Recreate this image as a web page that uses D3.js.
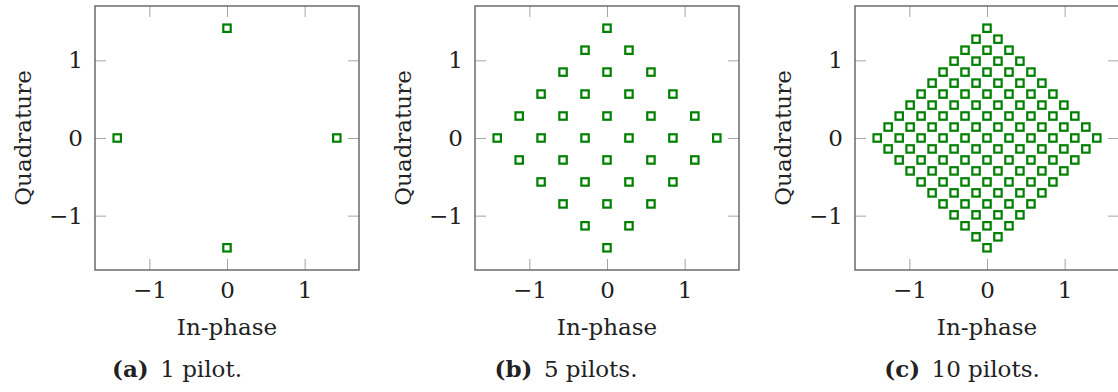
<!DOCTYPE html>
<html>
<head>
<meta charset="utf-8">
<script src="https://cdn.jsdelivr.net/npm/d3@7"></script>
<style>
  html, body { margin: 0; padding: 0; background: #fff; }
  svg { display: block; }
  text { font-family: "DejaVu Serif", "Liberation Serif", serif; fill: #222; }
</style>
</head>
<body>
<svg id="chart" width="1118" height="392"></svg>
<script>
// Axis range and ticks shared by every constellation
const axisRange = [-1.7, 1.7];
const tickValues = [-1, 0, 1];

// Subfigure captions
const captionTags = ["(a)", "(b)", "(c)"];
const captionTexts = ["1 pilot.", "5 pilots.", "10 pilots."];

// Constellation points, one row per quadrature level: [Q, [I values]]
const pilots1 = [
  [1.414, [0]],
  [0, [-1.414, 1.414]],
  [-1.414, [0]]
];

const pilots5 = [
  [1.414, [0]],
  [1.131, [-0.283, 0.283]],
  [0.849, [-0.566, 0, 0.566]],
  [0.566, [-0.849, -0.283, 0.283, 0.849]],
  [0.283, [-1.131, -0.566, 0, 0.566, 1.131]],
  [0, [-1.414, -0.849, -0.283, 0.283, 0.849, 1.414]],
  [-0.283, [-1.131, -0.566, 0, 0.566, 1.131]],
  [-0.566, [-0.849, -0.283, 0.283, 0.849]],
  [-0.849, [-0.566, 0, 0.566]],
  [-1.131, [-0.283, 0.283]],
  [-1.414, [0]]
];

const pilots10 = [
  [1.414, [0]],
  [1.273, [-0.141, 0.141]],
  [1.131, [-0.283, 0, 0.283]],
  [0.990, [-0.424, -0.141, 0.141, 0.424]],
  [0.849, [-0.566, -0.283, 0, 0.283, 0.566]],
  [0.707, [-0.707, -0.424, -0.141, 0.141, 0.424, 0.707]],
  [0.566, [-0.849, -0.566, -0.283, 0, 0.283, 0.566, 0.849]],
  [0.424, [-0.990, -0.707, -0.424, -0.141, 0.141, 0.424, 0.707, 0.990]],
  [0.283, [-1.131, -0.849, -0.566, -0.283, 0, 0.283, 0.566, 0.849, 1.131]],
  [0.141, [-1.273, -0.990, -0.707, -0.424, -0.141, 0.141, 0.424, 0.707, 0.990, 1.273]],
  [0, [-1.414, -1.131, -0.849, -0.566, -0.283, 0, 0.283, 0.566, 0.849, 1.131, 1.414]],
  [-0.141, [-1.273, -0.990, -0.707, -0.424, -0.141, 0.141, 0.424, 0.707, 0.990, 1.273]],
  [-0.283, [-1.131, -0.849, -0.566, -0.283, 0, 0.283, 0.566, 0.849, 1.131]],
  [-0.424, [-0.990, -0.707, -0.424, -0.141, 0.141, 0.424, 0.707, 0.990]],
  [-0.566, [-0.849, -0.566, -0.283, 0, 0.283, 0.566, 0.849]],
  [-0.707, [-0.707, -0.424, -0.141, 0.141, 0.424, 0.707]],
  [-0.849, [-0.566, -0.283, 0, 0.283, 0.566]],
  [-0.990, [-0.424, -0.141, 0.141, 0.424]],
  [-1.131, [-0.283, 0, 0.283]],
  [-1.273, [-0.141, 0.141]],
  [-1.414, [0]]
];

const constellations = [pilots1, pilots5, pilots10];

// Layout
const size = 264;            // square plot area
const panelLeft = [95, 475, 855];
const panelTop = 6;
const captionCenter = [177, 566, 962];
const captionBaseline = 377;
const fontSize = 23;
const tickLen = 11;
const green = "#008000";

const svg = d3.select("#chart");

const x = d3.scaleLinear().domain(axisRange).range([0, size]);
const y = d3.scaleLinear().domain(axisRange).range([size, 0]);
const fmt = d3.format("d");

constellations.forEach((rows, i) => {
  const g = svg.append("g").attr("transform", `translate(${panelLeft[i]},${panelTop})`);

  const points = rows.flatMap(([q, is]) => is.map(v => ({ i: v, q })));

  // inward ticks on all four sides
  const styleAxis = sel => {
    sel.select(".domain").remove();
    sel.selectAll(".tick line").attr("stroke", "#a6a6a6").attr("stroke-width", 1);
    sel.selectAll(".tick text")
      .style("font-size", fontSize + "px")
      .attr("fill", "#222");
  };

  g.append("g").attr("transform", `translate(0,${size})`)
    .call(d3.axisBottom(x).tickValues(tickValues).tickSize(-tickLen).tickPadding(12).tickFormat(fmt))
    .call(styleAxis);
  g.append("g")
    .call(d3.axisTop(x).tickValues(tickValues).tickSize(-tickLen).tickFormat(""))
    .call(styleAxis);
  g.append("g")
    .call(d3.axisLeft(y).tickValues(tickValues).tickSize(-tickLen).tickPadding(12).tickFormat(fmt))
    .call(styleAxis);
  g.append("g").attr("transform", `translate(${size},0)`)
    .call(d3.axisRight(y).tickValues(tickValues).tickSize(-tickLen).tickFormat(""))
    .call(styleAxis);

  // frame
  g.append("rect")
    .attr("width", size).attr("height", size)
    .attr("fill", "none")
    .attr("stroke", "#555")
    .attr("stroke-width", 1.3);

  // constellation markers
  const m = 7.4;
  g.append("g").selectAll("rect")
    .data(points)
    .join("rect")
    .attr("x", d => x(d.i) - m / 2)
    .attr("y", d => y(d.q) - m / 2)
    .attr("width", m)
    .attr("height", m)
    .attr("fill", "#fff")
    .attr("stroke", green)
    .attr("stroke-width", 2.2);

  // axis titles
  g.append("text")
    .attr("x", size / 2)
    .attr("y", size + 65)
    .attr("text-anchor", "middle")
    .style("font-size", fontSize + "px")
    .text("In-phase");

  g.append("text")
    .attr("transform", `translate(-64,${size / 2}) rotate(-90)`)
    .attr("text-anchor", "middle")
    .style("font-size", fontSize + "px")
    .text("Quadrature");

  // caption
  const cap = svg.append("text")
    .attr("x", captionCenter[i])
    .attr("y", captionBaseline)
    .attr("text-anchor", "middle")
    .style("font-size", fontSize + "px");
  cap.append("tspan").attr("font-weight", "bold").text(captionTags[i]);
  cap.append("tspan").text("\u2002" + captionTexts[i]);
});
</script>
</body>
</html>
